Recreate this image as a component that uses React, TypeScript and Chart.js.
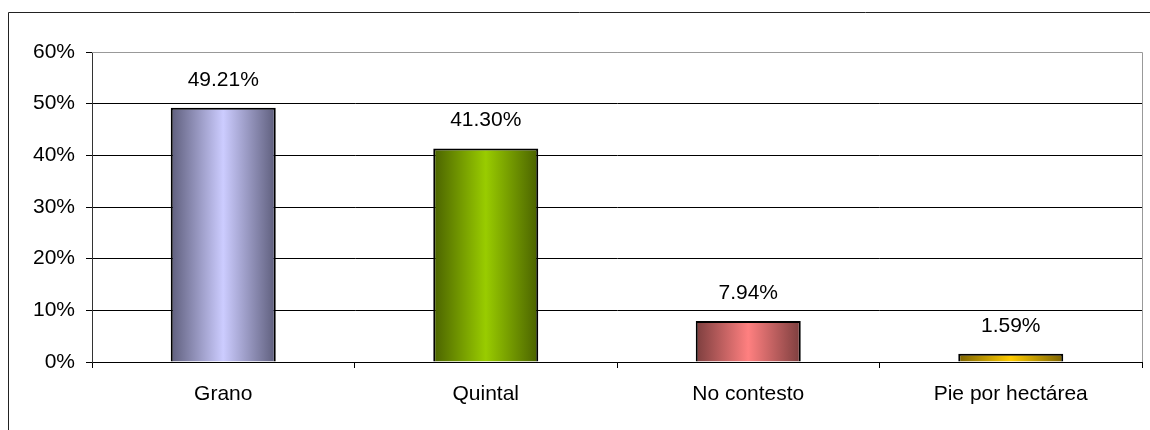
import React, { useEffect, useRef } from "react";
import { Chart, registerables } from "chart.js";

Chart.register(...registerables);

const categories = ["Grano", "Quintal", "No contesto", "Pie por hectárea"];
const values = [49.21, 41.3, 7.94, 1.59];
const yTicks = [0, 10, 20, 30, 40, 50, 60];
const lightColors = ["#CCCCFF", "#99CC00", "#FF8080", "#FFCC00"];
const darkColors = ["#5E5E7C", "#4A6200", "#7C3E3E", "#7C6200"];

const FONT = '"Liberation Sans", Arial, sans-serif';

const gradientPlugin = {
  id: "gradientBars",
  beforeDatasetsDraw(chart: any) {
    const ctx = chart.ctx;
    const meta = chart.getDatasetMeta(0);
    meta.data.forEach((el: any, i: number) => {
      const w = el.width;
      const g = ctx.createLinearGradient(el.x - w / 2, 0, el.x + w / 2, 0);
      g.addColorStop(0, darkColors[i]);
      g.addColorStop(0.5, lightColors[i]);
      g.addColorStop(1, darkColors[i]);
      el.options = Object.assign({}, el.options, { backgroundColor: g });
    });
  },
};

const decorPlugin = {
  id: "decor",
  beforeDraw(chart: any) {
    const ctx = chart.ctx;
    ctx.save();
    ctx.strokeStyle = "#222";
    ctx.lineWidth = 1;
    ctx.beginPath();
    ctx.moveTo(8.5, 440);
    ctx.lineTo(8.5, 12.5);
    ctx.lineTo(1160, 12.5);
    ctx.stroke();
    ctx.restore();
  },
  afterDraw(chart: any) {
    const ctx = chart.ctx;
    const a = chart.chartArea;
    ctx.save();
    ctx.strokeStyle = "#999";
    ctx.lineWidth = 1;
    ctx.beginPath();
    ctx.moveTo(a.left, a.top + 0.5);
    ctx.lineTo(a.right + 0.5, a.top + 0.5);
    ctx.lineTo(a.right + 0.5, a.bottom);
    ctx.stroke();
    ctx.restore();
  },
  afterDatasetsDraw(chart: any) {
    const ctx = chart.ctx;
    const meta = chart.getDatasetMeta(0);
    ctx.save();
    ctx.fillStyle = "#000";
    ctx.font = `21px ${FONT}`;
    ctx.textAlign = "center";
    ctx.textBaseline = "middle";
    meta.data.forEach((el: any, i: number) => {
      ctx.fillText(values[i].toFixed(2) + "%", el.x, el.y - 28);
    });
    ctx.restore();
  },
};

export default function App() {
  const ref = useRef<HTMLCanvasElement>(null);
  useEffect(() => {
    if (!ref.current) return;
    const chart = new Chart(ref.current, {
      type: "bar",
      data: {
        labels: categories,
        datasets: [
          {
            data: values,
            backgroundColor: lightColors,
            borderColor: "#000",
            borderWidth: 2,
            barPercentage: 0.4,
            categoryPercentage: 1,
          },
        ],
      },
      options: {
        animation: false,
        responsive: false,
        devicePixelRatio: 1,
        layout: { padding: { left: 0, top: 52, right: 8, bottom: 0 } },
        plugins: { legend: { display: false }, tooltip: { enabled: false } },
        scales: {
          x: {
            afterFit(scale: any) {
              scale.height = 68;
            },
            grid: {
              display: true,
              drawOnChartArea: false,
              drawTicks: true,
              tickLength: 6,
              offset: true,
              color: "#000",
            },
            border: { color: "#000", width: 1 },
            ticks: {
              color: "#000",
              font: { family: FONT, size: 21 },
              padding: 14,
              maxRotation: 0,
              autoSkip: false,
            },
          },
          y: {
            min: 0,
            max: 60,
            afterFit(scale: any) {
              scale.width = 92;
            },
            afterBuildTicks(scale: any) {
              scale.ticks = yTicks.map((v) => ({ value: v }));
            },
            grid: {
              color: (c: any) => (c.tick && c.tick.value === 60 ? "#999" : "#000"),
              tickColor: "#000",
              tickLength: 6,
            },
            border: { color: "#333", width: 1 },
            ticks: {
              color: "#000",
              font: { family: FONT, size: 21 },
              padding: 11,
              callback: (v: any) => v + "%",
            },
          },
        },
      },
      plugins: [gradientPlugin, decorPlugin],
    });
    return () => chart.destroy();
  }, []);
  return (
    <div style={{ position: "absolute", left: 0, top: 0, width: 1150, height: 430, background: "#fff" }}>
      <canvas ref={ref} width={1150} height={430} />
    </div>
  );
}
